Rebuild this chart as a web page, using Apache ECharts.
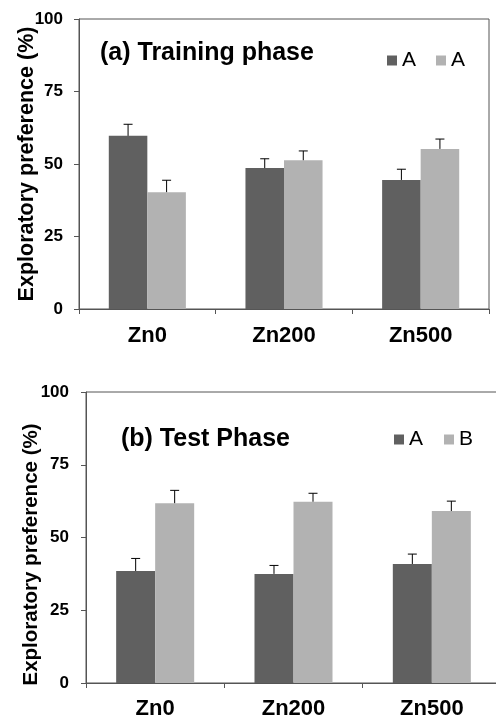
<!DOCTYPE html>
<html>
<head>
<meta charset="utf-8">
<script src="https://cdn.jsdelivr.net/npm/echarts@6/dist/echarts.min.js"></script>
<style>
  html, body { margin: 0; padding: 0; background: #fff; }
  #main { width: 496px; height: 716px; }
</style>
</head>
<body>
<div id="main"></div>
<script>
// data
var categories = ['Zn0', 'Zn200', 'Zn500'];
var yTicks = [0, 25, 50, 75, 100];

var trainTitle = '(a) Training phase';
var trainLegend = ['A', 'A'];
var trainDark = [59.7, 48.6, 44.5];
var trainDarkErr = [4.0, 3.2, 3.7];
var trainLight = [40.3, 51.3, 55.2];
var trainLightErr = [4.1, 3.2, 3.4];

var testTitle = '(b) Test Phase';
var testLegend = ['A', 'B'];
var testDark = [38.5, 37.5, 40.9];
var testDarkErr = [4.3, 2.9, 3.4];
var testLight = [61.8, 62.3, 59.1];
var testLightErr = [4.4, 2.9, 3.4];

var yName = 'Exploratory preference (%)';

var DARK = '#606060';
var LIGHT = '#b2b2b2';
var AXIS = '#555';
var FONT = '"Liberation Sans", Arial, sans-serif';
var BAR_FRAC = 0.282;

var chart = echarts.init(document.getElementById('main'));

// error bars (upper only), drawn at the centre of each bar
function errSeries(vals, errs, side, gi) {
    return {
        type: 'custom',
        xAxisIndex: gi,
        yAxisIndex: gi,
        z: 5,
        silent: true,
        data: vals.map(function (v, i) { return [i, v, errs[i]]; }),
        renderItem: function (params, api) {
            var c = api.value(0), v = api.value(1), e = api.value(2);
            var bw = api.size([1, 0])[0] * BAR_FRAC;
            var p0 = api.coord([c, v]);
            var p1 = api.coord([c, v + e]);
            var x = p0[0] + side * bw / 2;
            var st = { stroke: '#000', lineWidth: 1 };
            return {
                type: 'group',
                children: [
                    { type: 'line', shape: { x1: x, y1: p0[1], x2: x, y2: p1[1] }, style: st },
                    { type: 'line', shape: { x1: x - 4.5, y1: p1[1], x2: x + 4.5, y2: p1[1] }, style: st }
                ]
            };
        }
    };
}

function xAxisCfg(gi, margin) {
    return {
        gridIndex: gi,
        type: 'category',
        data: categories,
        axisLine: { lineStyle: { color: AXIS, width: 1 } },
        axisTick: { show: true, length: 5, lineStyle: { color: AXIS } },
        axisLabel: { color: '#000', fontSize: 22, fontWeight: 'bold', fontFamily: FONT, margin: margin }
    };
}

function yAxisCfg(gi, gap, size, pad, margin) {
    return {
        gridIndex: gi,
        type: 'value',
        min: yTicks[0],
        max: yTicks[yTicks.length - 1],
        interval: yTicks[1] - yTicks[0],
        name: yName,
        nameLocation: 'middle',
        nameGap: gap,
        nameMoveOverlap: false,
        nameTextStyle: { color: '#000', fontSize: size, fontWeight: 'bold', fontFamily: FONT, padding: pad },
        axisLine: { show: true, lineStyle: { color: AXIS, width: 1 } },
        axisTick: { show: true, length: 5, lineStyle: { color: AXIS } },
        splitLine: { show: false },
        axisLabel: { color: '#000', fontSize: 17, fontWeight: 'bold', fontFamily: FONT, margin: margin }
    };
}

function legendCfg(names, labels, left, top, gap) {
    return {
        left: left,
        top: top,
        itemWidth: 10,
        itemHeight: 10,
        itemGap: gap,
        icon: 'rect',
        data: names,
        selectedMode: false,
        formatter: function (n) { return labels[names.indexOf(n)]; },
        textStyle: { color: '#000', fontSize: 21, fontFamily: FONT }
    };
}

chart.setOption({
    animation: false,
    backgroundColor: '#fff',
    title: [
        { text: trainTitle, left: 95, top: 36, textStyle: { fontSize: 25, fontWeight: 'bold', color: '#000', fontFamily: FONT } },
        { text: testTitle, left: 116, top: 422, textStyle: { fontSize: 25, fontWeight: 'bold', color: '#000', fontFamily: FONT } }
    ],
    legend: [
        legendCfg(['trainA1', 'trainA2'], trainLegend, 382, 45, 20),
        legendCfg(['testA', 'testB'], testLegend, 389, 424, 21)
    ],
    grid: [
        { left: 79, top: 19, right: 7, height: 290, show: true, borderColor: AXIS, borderWidth: 1, outerBoundsMode: 'none' },
        { left: 86, top: 392, right: -5, height: 291, show: true, borderColor: AXIS, borderWidth: 1, outerBoundsMode: 'none' }
    ],
    xAxis: [xAxisCfg(0, 16), xAxisCfg(1, 15)],
    yAxis: [
        yAxisCfg(0, 41, 21.5, [0, 0, 0, 0], 16),
        yAxisCfg(1, 44, 20.5, [0, 34, 0, 0], 17)
    ],
    series: [
        { name: 'trainA1', type: 'bar', xAxisIndex: 0, yAxisIndex: 0, data: trainDark, barWidth: (BAR_FRAC * 100) + '%', barGap: '0%', itemStyle: { color: DARK } },
        { name: 'trainA2', type: 'bar', xAxisIndex: 0, yAxisIndex: 0, data: trainLight, barWidth: (BAR_FRAC * 100) + '%', barGap: '0%', itemStyle: { color: LIGHT } },
        { name: 'testA', type: 'bar', xAxisIndex: 1, yAxisIndex: 1, data: testDark, barWidth: (BAR_FRAC * 100) + '%', barGap: '0%', itemStyle: { color: DARK } },
        { name: 'testB', type: 'bar', xAxisIndex: 1, yAxisIndex: 1, data: testLight, barWidth: (BAR_FRAC * 100) + '%', barGap: '0%', itemStyle: { color: LIGHT } },
        errSeries(trainDark, trainDarkErr, -1, 0),
        errSeries(trainLight, trainLightErr, 1, 0),
        errSeries(testDark, testDarkErr, -1, 1),
        errSeries(testLight, testLightErr, 1, 1)
    ]
});
</script>
</body>
</html>
